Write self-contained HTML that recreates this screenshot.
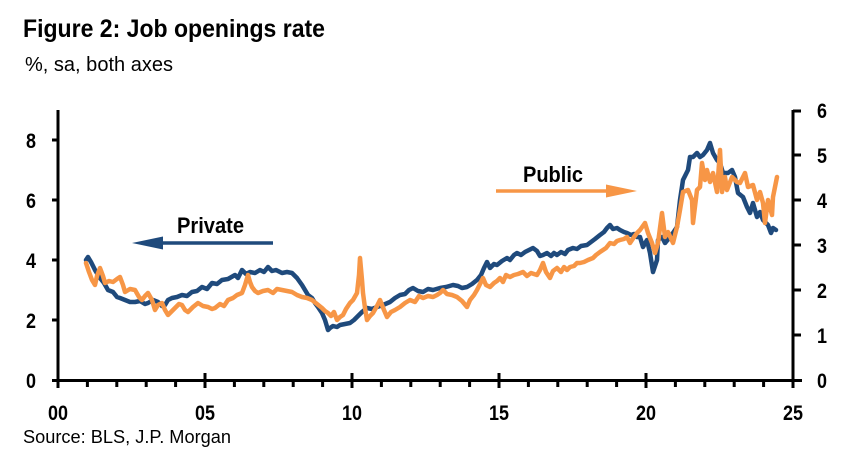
<!DOCTYPE html>
<html><head><meta charset="utf-8"><style>
html,body{margin:0;padding:0;background:#fff;}
svg{display:block;}
text{font-family:"Liberation Sans",Arial,sans-serif;fill:#000;}
.b{font-weight:bold;}
</style></head><body>
<svg width="852" height="460" viewBox="0 0 852 460" xmlns="http://www.w3.org/2000/svg">
<text x="23" y="37" class="b" font-size="25" textLength="302" lengthAdjust="spacingAndGlyphs">Figure 2: Job openings rate</text>
<text x="25" y="71" font-size="20" textLength="148" lengthAdjust="spacingAndGlyphs">%, sa, both axes</text>
<text x="23" y="443" font-size="18" textLength="208" lengthAdjust="spacingAndGlyphs">Source: BLS, J.P. Morgan</text>

<g stroke="#000" stroke-width="3" fill="none">
<line x1="58" y1="110" x2="58" y2="382"/>
<line x1="793" y1="110" x2="793" y2="382"/>
<line x1="52" y1="380.5" x2="802" y2="380.5"/>
<line x1="52" y1="140" x2="58" y2="140"/>
<line x1="52" y1="200" x2="58" y2="200"/>
<line x1="52" y1="260" x2="58" y2="260"/>
<line x1="52" y1="320" x2="58" y2="320"/>
<line x1="793" y1="111" x2="801" y2="111"/>
<line x1="793" y1="155" x2="801" y2="155"/>
<line x1="793" y1="200" x2="801" y2="200"/>
<line x1="793" y1="245" x2="801" y2="245"/>
<line x1="793" y1="290" x2="801" y2="290"/>
<line x1="793" y1="335" x2="801" y2="335"/>
<line x1="58" y1="373" x2="58" y2="388"/>
<line x1="205" y1="373" x2="205" y2="388"/>
<line x1="352" y1="373" x2="352" y2="388"/>
<line x1="499" y1="373" x2="499" y2="388"/>
<line x1="646" y1="373" x2="646" y2="388"/>
<line x1="793" y1="373" x2="793" y2="388"/>
<path d="M87.4 380V387M116.8 380V387M146.2 380V387M175.6 380V387M234.4 380V387M263.8 380V387M293.2 380V387M322.6 380V387M381.4 380V387M410.8 380V387M440.2 380V387M469.6 380V387M528.4 380V387M557.8 380V387M587.2 380V387M616.6 380V387M675.4 380V387M704.8 380V387M734.2 380V387M763.6 380V387"/>
</g>

<g class="b" font-size="21">
<text x="26" y="148" textLength="10" lengthAdjust="spacingAndGlyphs">8</text>
<text x="26" y="208" textLength="10" lengthAdjust="spacingAndGlyphs">6</text>
<text x="26" y="268" textLength="10" lengthAdjust="spacingAndGlyphs">4</text>
<text x="26" y="328" textLength="10" lengthAdjust="spacingAndGlyphs">2</text>
<text x="26" y="388" textLength="10" lengthAdjust="spacingAndGlyphs">0</text>
<text x="817" y="118" textLength="10" lengthAdjust="spacingAndGlyphs">6</text>
<text x="817" y="163" textLength="10" lengthAdjust="spacingAndGlyphs">5</text>
<text x="817" y="208" textLength="10" lengthAdjust="spacingAndGlyphs">4</text>
<text x="817" y="253" textLength="10" lengthAdjust="spacingAndGlyphs">3</text>
<text x="817" y="298" textLength="10" lengthAdjust="spacingAndGlyphs">2</text>
<text x="817" y="343" textLength="10" lengthAdjust="spacingAndGlyphs">1</text>
<text x="817" y="388" textLength="10" lengthAdjust="spacingAndGlyphs">0</text>
<text x="48" y="420" textLength="20" lengthAdjust="spacingAndGlyphs">00</text>
<text x="195" y="420" textLength="20" lengthAdjust="spacingAndGlyphs">05</text>
<text x="342" y="420" textLength="20" lengthAdjust="spacingAndGlyphs">10</text>
<text x="489" y="420" textLength="20" lengthAdjust="spacingAndGlyphs">15</text>
<text x="636" y="420" textLength="20" lengthAdjust="spacingAndGlyphs">20</text>
<text x="783" y="420" textLength="20" lengthAdjust="spacingAndGlyphs">25</text>
</g>

<text x="177" y="233" class="b" font-size="22" textLength="67" lengthAdjust="spacingAndGlyphs">Private</text>
<line x1="160" y1="243" x2="273" y2="243" stroke="#1F4A7C" stroke-width="3.5"/>
<polygon points="132,243 163,236.5 163,249.5" fill="#1F4A7C"/>
<text x="523" y="182" class="b" font-size="22" textLength="60" lengthAdjust="spacingAndGlyphs">Public</text>
<line x1="496" y1="191" x2="608" y2="191" stroke="#F79646" stroke-width="3.5"/>
<polygon points="637,191 606,184.5 606,197.5" fill="#F79646"/>

<polyline fill="none" stroke="#1F4A7C" stroke-width="4.5" stroke-linejoin="round" stroke-linecap="round" points="86,260 88,257 91,262 95,270 100,278 104,283 108,290 113,292 117,297 120,298 125,300 130,302 135,302 140,301 145,304 148,303 153,300 158,302 162,306 165,305 168,300 172,298 177,297 182,295 187,296 192,292 197,291 202,287 207,289 212,283 217,284 222,280 228,279 235,275 238,278 242,270 246,274 250,272 255,273 260,270 264,272 268,267 272,271 276,270 282,273 287,272 292,273 297,278 302,285 305,290 308,295 312,298 315,303 318,307 322,313 325,320 328,330 330,328 333,326 337,327 340,325 345,324 350,323 354,320 357,317 362,312 367,308 372,309 377,307 383,305 390,302 395,298 400,295 405,294 409,290 413,288 418,291 423,292 428,289 433,290 440,288 446,287 453,285 458,286 462,288 467,287 472,284 477,280 481,275 484,268 487,262 490,268 494,264 497,265 502,261 507,258 510,260 514,255 517,253 521,255 525,252 529,250 533,248 537,251 540,256 543,255 547,253 551,256 554,253 557,255 561,252 565,254 568,250 573,248 577,249 581,246 587,245 591,242 595,239 600,235 604,232 607,228 610,225 613,229 617,228 620,230 624,232 627,233 631,235 634,234 637,237 640,237 643,247 647,240 650,253 653,272 657,260 658,240 662,237 665,243 670,237 673,233 677,227 680,200 683,180 688,170 690,157 693,157 697,153 700,157 703,155 707,150 710,143 713,153 717,160 720,163 723,173 728,173 732,170 735,177 738,193 743,197 747,207 750,213 753,203 757,217 760,212 763,220 768,225 771,233 773,228 776,230"/>

<polyline fill="none" stroke="#F79646" stroke-width="4.5" stroke-linejoin="round" stroke-linecap="round" points="86,263 89,272 92,280 95,285 97,276 100,268 103,276 105,283 109,281 113,282 117,279 120,277 123,285 125,292 130,289 135,290 139,297 142,300 145,296 148,293 152,300 155,310 158,305 162,303 165,310 168,315 172,311 175,308 179,304 182,305 185,310 188,312 193,307 198,303 203,306 208,307 212,309 215,308 220,304 224,306 228,300 233,298 237,295 242,293 245,285 248,275 250,282 252,287 255,291 258,293 263,291 268,290 273,293 277,289 282,290 287,291 292,292 297,295 302,297 307,298 312,300 317,304 322,308 325,311 328,313 331,316 334,312 337,320 340,317 343,315 346,309 350,303 353,300 357,293 359,275 360,258 362,280 363,293 365,308 367,320 370,316 373,313 377,306 380,300 384,310 387,317 391,312 395,310 400,307 405,303 410,300 415,302 419,296 423,298 428,296 433,297 437,295 440,293 443,290 447,294 452,295 457,297 462,301 467,307 470,300 474,295 477,290 480,284 483,278 486,285 490,287 494,283 497,281 500,278 503,282 506,275 510,277 514,275 518,274 523,272 527,276 531,273 537,275 540,270 543,263 546,272 550,278 553,271 557,268 561,272 564,267 567,270 570,267 574,266 577,263 580,263 584,262 588,260 593,258 596,255 600,252 603,250 606,248 610,243 614,244 617,241 620,240 624,239 627,237 630,243 634,237 637,233 640,230 645,223 648,233 652,243 655,253 658,243 662,213 665,237 668,232 673,243 677,227 680,210 683,192 688,190 692,200 693,223 697,190 700,187 702,163 705,180 707,170 710,182 713,173 717,192 720,150 722,192 725,177 727,190 732,177 737,182 740,183 745,173 748,187 753,185 757,200 760,192 763,203 765,223 768,200 772,215 773,197 777,177"/>
</svg>
</body></html>
